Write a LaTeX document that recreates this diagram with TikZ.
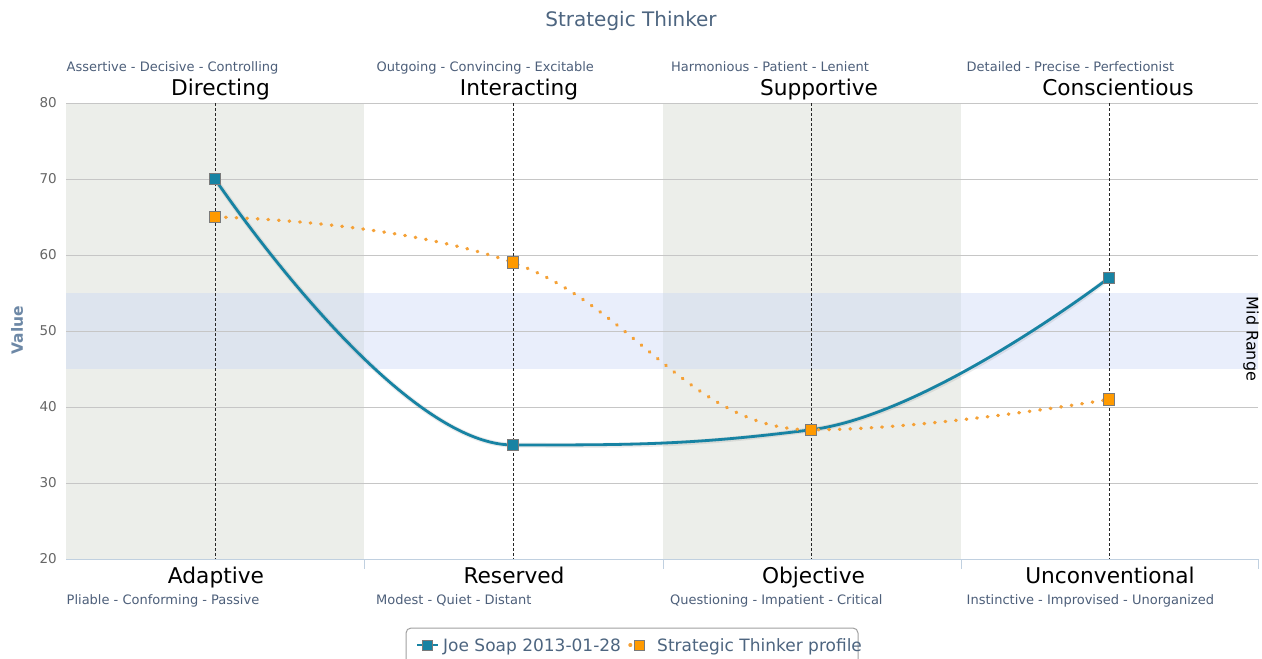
\documentclass[tikz,border=0pt]{standalone}
\usepackage{fontspec}
\setmainfont{DejaVu Sans}
\definecolor{bandgray}{HTML}{ECEEEA}
\definecolor{midblue}{HTML}{C8D6F5}
\definecolor{gridc}{HTML}{C6C6C6}
\definecolor{axisc}{HTML}{C0D0E0}
\definecolor{labc}{HTML}{4D5F7A}
\definecolor{titlec}{HTML}{4D6580}
\definecolor{ylabc}{HTML}{666666}
\definecolor{valc}{HTML}{6D88A6}
\definecolor{myteal}{HTML}{1783A3}
\definecolor{myorange}{HTML}{FF9A00}
\definecolor{dotorange}{HTML}{F5A136}
\definecolor{markborder}{HTML}{7A7A7A}
\definecolor{legborder}{HTML}{A0A0A0}
\begin{document}
\begin{tikzpicture}[x=1pt,y=-1pt,
  gridline/.style={gridc, line width=1pt},
  vdash/.style={black!85, line width=1pt, dash pattern=on 3pt off 2pt},
  smalllab/.style={font=\fontsize{13}{15}\selectfont, text=labc, anchor=base west, inner sep=0pt},
  biglab/.style={font=\fontsize{21.7}{25}\selectfont, anchor=base, inner sep=0pt},
  ylab/.style={font=\fontsize{13.5}{15}\selectfont, text=ylabc, anchor=east, inner sep=0pt},
  tmark/.style={draw=markborder, fill=myteal, line width=0.9pt, minimum size=11.5pt, inner sep=0pt, rectangle},
  omark/.style={draw=markborder, fill=myorange, line width=0.9pt, minimum size=11.5pt, inner sep=0pt, rectangle},
  tline/.style={myteal, line width=2.8pt},
  tshadow/.style={black, opacity=0.08, line width=5pt},
  oline/.style={dotorange, line width=3.4pt, line cap=round, dash pattern=on 0.6pt off 10pt},
  legtext/.style={font=\fontsize{17}{20}\selectfont, text=titlec, anchor=base west, inner sep=0pt}
]
\useasboundingbox (0,0) rectangle (1262,659);
\clip (0,0) rectangle (1262,659);
\fill[white] (0,0) rectangle (1262,659);
% bands
\fill[bandgray] (66,103) rectangle (364,559);
\fill[bandgray] (663,103) rectangle (961,559);
\fill[midblue, fill opacity=0.4] (66,293) rectangle (1258,369);
% grid lines
\foreach \yy in {103,179,255,331,407,483} {\draw[gridline] (66,\yy) -- (1258,\yy);}
% x axis
\draw[axisc, line width=1pt] (66,559) -- (1258,559);
\foreach \xx in {364,663,961,1258} {\draw[axisc, line width=1pt] (\xx,559) -- (\xx,569);}
% y labels
\node[ylab] (y80) at (57,103) {80};
\node[ylab] (y70) at (57,179) {70};
\node[ylab] (y60) at (57,255) {60};
\node[ylab] (y50) at (57,331) {50};
\node[ylab] (y40) at (57,407) {40};
\node[ylab] (y30) at (57,483) {30};
\node[ylab] (y20) at (57,559) {20};
\node[font=\bfseries\fontsize{15.5}{18}\selectfont, text=valc, rotate=90, inner sep=0pt] (vtitle) at (17,330) {Value};
\node[font=\fontsize{16}{19}\selectfont, rotate=-90, inner sep=0pt] (mid) at (1251,339) {Mid Range};
% title
\node[font=\fontsize{20}{24}\selectfont, text=titlec, anchor=base, inner sep=0pt] (title) at (631,26) {Strategic Thinker};
% dashed verticals
\foreach \n/\xx in {1/215,2/513,3/811,4/1109} {
  \coordinate (t\n) at (\xx,103);
  \coordinate (b\n) at (\xx,559);
  \draw[vdash] (t\n) -- (b\n);
}
% top labels
\node[smalllab] (s1) at (66.5,71) {Assertive - Decisive - Controlling};
\node[smalllab] (s2) at (376.5,71) {Outgoing - Convincing - Excitable};
\node[smalllab] (s3) at (671,71) {Harmonious - Patient - Lenient};
\node[smalllab] (s4) at (966.5,71) {Detailed - Precise - Perfectionist};
\node[biglab] (h1) at (220.5,95) {Directing};
\node[biglab] (h2) at (519,95) {Interacting};
\node[biglab] (h3) at (819,95) {Supportive};
\node[biglab] (h4) at (1118,95) {Conscientious};
% bottom labels
\node[biglab] (l1) at (216,583) {Adaptive};
\node[biglab] (l2) at (514,583) {Reserved};
\node[biglab] (l3) at (813.5,583) {Objective};
\node[biglab] (l4) at (1110,583) {Unconventional};
\node[smalllab] (u1) at (66.5,604) {Pliable - Conforming - Passive};
\node[smalllab] (u2) at (376,604) {Modest - Quiet - Distant};
\node[smalllab] (u3) at (670,604) {Questioning - Impatient - Critical};
\node[smalllab] (u4) at (966.5,604) {Instinctive - Improvised - Unorganized};
% data points
\coordinate (J1) at (215,179);
\coordinate (J2) at (513,445);
\coordinate (J3) at (811,429.8);
\coordinate (J4) at (1109,277.8);
\coordinate (S1) at (215,217);
\coordinate (S2) at (513,262.6);
\coordinate (S3) at (811,429.8);
\coordinate (S4) at (1109,399.4);
% teal series (shadow, then line)
\begin{scope}[shift={(1,1)}]
\draw[tshadow] (J1) .. controls (215,179) and (393.8,445) .. (J2)
  .. controls (632.2,445) and (691.8,445) .. (J3)
  .. controls (930.2,414.6) and (1109,277.8) .. (J4);
\end{scope}
\draw[tline] (J1) .. controls (215,179) and (393.8,445) .. (J2)
  .. controls (632.2,445) and (691.8,445) .. (J3)
  .. controls (930.2,414.6) and (1109,277.8) .. (J4);
\node[tmark] (mJ1) at (J1) {};
\node[tmark] (mJ2) at (J2) {};
\node[tmark] (mJ3) at (J3) {};
\node[tmark] (mJ4) at (J4) {};
% orange series
\draw[oline] (S1) .. controls (215,217) and (393.8,220.04) .. (S2)
  .. controls (632.2,305.16) and (691.8,429.8) .. (S3)
  .. controls (930.2,429.8) and (1109,399.4) .. (S4);
\node[omark] (mS1) at (S1) {};
\node[omark] (mS2) at (S2) {};
\node[omark] (mS3) at (S3) {};
\node[omark] (mS4) at (S4) {};
% legend
\draw[legborder, line width=1pt, rounded corners=5pt, fill=white] (406,628) rectangle (858,675);
\coordinate (la) at (417,645);
\coordinate (lb) at (438,645);
\draw[tline] (la) -- (lb);
\node[tmark, minimum size=10pt] (lm1) at (427,645) {};
\node[legtext] (lt1) at (443,651) {Joe Soap 2013-01-28};
\coordinate (lc) at (630,645);
\coordinate (ld) at (648,645);
\draw[oline] (lc) -- (ld);
\node[omark, minimum size=10pt] (lm2) at (639,645) {};
\node[legtext] (lt2) at (657,651) {Strategic Thinker profile};
\end{tikzpicture}
\end{document}
